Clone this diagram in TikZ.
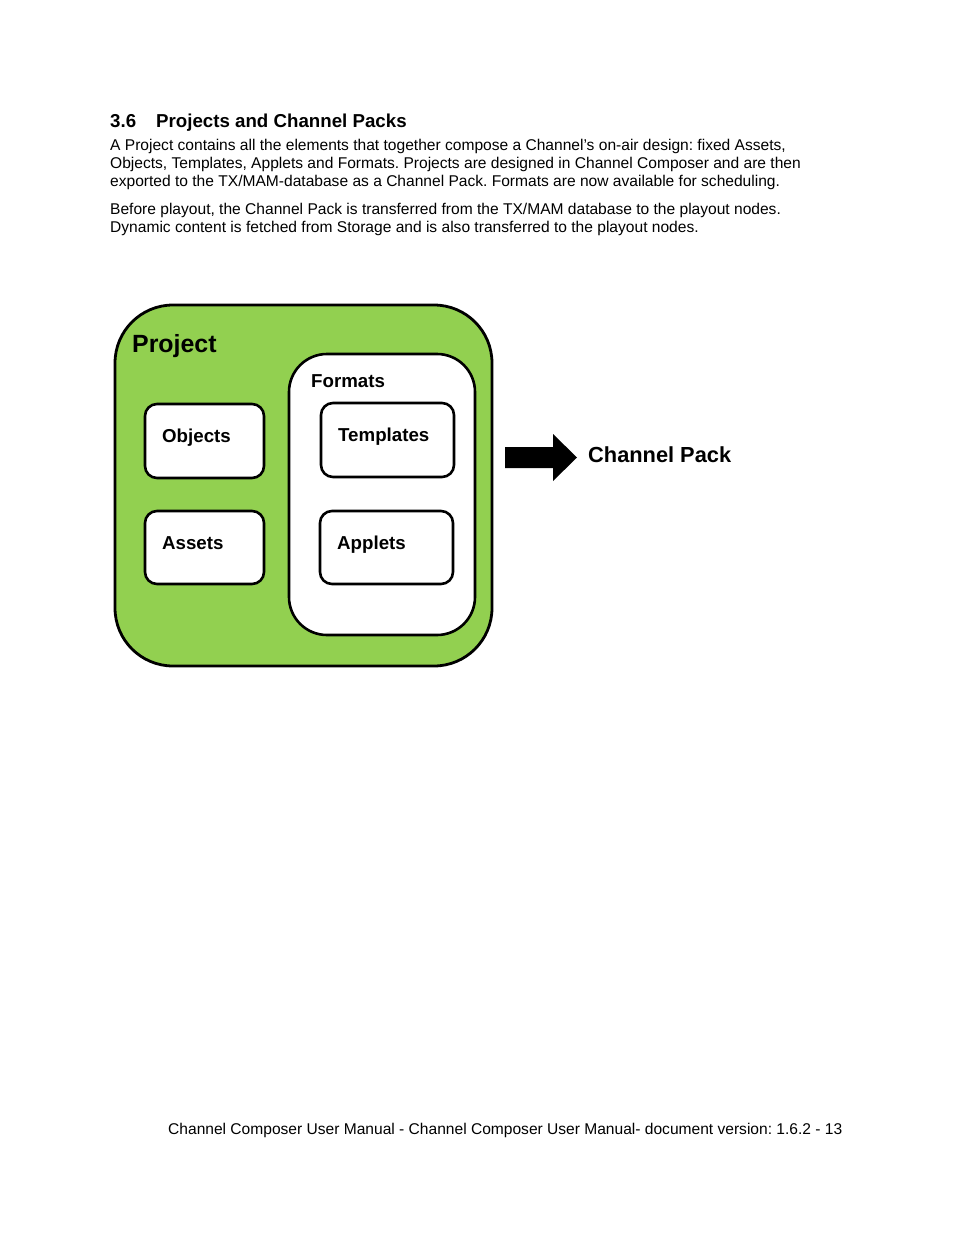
\documentclass[tikz,border=0pt]{standalone}
\usepackage{fontspec}
\setmainfont{Liberation Sans}
\definecolor{projgreen}{HTML}{92D050}
\frenchspacing
\begin{document}
\begin{tikzpicture}[x=1pt,y=-1pt,
  bodytext/.style={anchor=base west,inner sep=0pt,font=\fontsize{15.57}{18}\selectfont},
  boxlabel/.style={anchor=base west,inner sep=0pt,font=\fontsize{18.7}{22}\selectfont\bfseries},
  itembox/.style={draw=black,line width=2.6pt,fill=white,rounded corners=12pt}]
\useasboundingbox[fill=white] (0,0) rectangle (954,1235);
% heading
\node[anchor=base west,inner sep=0pt,font=\fontsize{18.7}{22}\selectfont\bfseries] (h36) at (110,127) {3.6};
\node[anchor=base west,inner sep=0pt,font=\fontsize{18.7}{22}\selectfont\bfseries] (htitle) at (156,127) {Projects and Channel Packs};
% body
\node[bodytext] (l1) at (110,150) {A Project contains all the elements that together compose a Channel’s on-air design: fixed Assets,};
\node[bodytext] (l2) at (110,168) {Objects, Templates, Applets and Formats. Projects are designed in Channel Composer and are then};
\node[bodytext] (l3) at (110,186) {exported to the TX/MAM-database as a Channel Pack. Formats are now available for scheduling.};
\node[bodytext] (l4) at (110,214) {Before playout, the Channel Pack is transferred from the TX/MAM database to the playout nodes.};
\node[bodytext] (l5) at (110,232) {Dynamic content is fetched from Storage and is also transferred to the playout nodes.};
% project
\draw[line width=2.8pt,fill=projgreen,rounded corners=58pt] (115,305) rectangle (492,666);
\node[anchor=base west,inner sep=0pt,font=\fontsize{24.9}{28}\selectfont\bfseries] (proj) at (132,352) {Project};
\draw[line width=2.6pt,fill=white,rounded corners=38pt] (289,354) rectangle (475,635);
\node[boxlabel] (fmt) at (311,387.5) {Formats};
\draw[itembox] (145,404) rectangle (264,478);
\node[boxlabel] (obj) at (162,442) {Objects};
\draw[itembox] (145,511) rectangle (264,584);
\node[boxlabel] (ass) at (162,549) {Assets};
\draw[itembox] (321,403) rectangle (454,477);
\node[boxlabel] (tpl) at (338,441) {Templates};
\draw[itembox] (320,511) rectangle (453,584);
\node[boxlabel] (app) at (337,549) {Applets};
% arrow
\fill[black] (505,447) -- (553,447) -- (553,434) -- (577,457.5) -- (553,481) -- (553,468) -- (505,468) -- cycle;
\node[anchor=base west,inner sep=0pt,font=\fontsize{21.8}{26}\selectfont\bfseries] (cp) at (588,462.5) {Channel Pack};
% footer
\node[bodytext] (foot) at (168,1134) {Channel Composer User Manual - Channel Composer User Manual- document version: 1.6.2 - 13};
\end{tikzpicture}
\end{document}
